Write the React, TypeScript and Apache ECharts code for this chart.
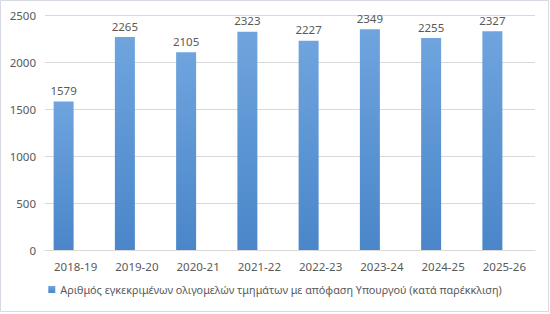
import React, { useEffect, useRef } from "react";
import * as echarts from "echarts";

const categories = ["2018-19", "2019-20", "2020-21", "2021-22", "2022-23", "2023-24", "2024-25", "2025-26"];
const values = [1579, 2265, 2105, 2323, 2227, 2349, 2255, 2327];
const emptySeries = [null, null, null, null, null, null, null, null];
const seriesName = "Αριθμός εγκεκριμένων ολιγομελών τμημάτων με απόφαση Υπουργού (κατά παρέκκλιση)";

const FONT = "'Noto Sans', sans-serif";

export default function App() {
  const ref = useRef<HTMLDivElement>(null);
  useEffect(() => {
    document.body.style.margin = "0";
    const chart = echarts.init(ref.current!, null, { renderer: "svg" });
    chart.setOption({
      animation: false,
      backgroundColor: "#ffffff",
      graphic: [
        {
          type: "rect",
          shape: { x: 0.5, y: 0.5, width: 548, height: 311 },
          style: { fill: "none", stroke: "#d9d9e3", lineWidth: 1 },
          silent: true,
        },
      ],
      grid: { left: 45, right: 15, top: 15, bottom: 64, containLabel: false },
      legend: {
        data: [seriesName],
        bottom: 14,
        left: "center",
        itemWidth: 7,
        itemHeight: 7,
        icon: "rect",
        itemGap: 4,
        textStyle: { color: "#595959", fontSize: 10.8, fontFamily: FONT },
      },
      xAxis: {
        type: "category",
        data: categories,
        axisLine: { lineStyle: { color: "#d9d9d9", width: 1 } },
        axisTick: { show: false },
        axisLabel: { color: "#595959", fontSize: 11.5, fontFamily: FONT, margin: 10 },
      },
      yAxis: {
        type: "value",
        min: 0,
        max: 2500,
        interval: 500,
        axisLine: { show: false },
        axisTick: { show: false },
        splitLine: { lineStyle: { color: "#d9d9d9", width: 1 } },
        axisLabel: {
          color: "#595959",
          fontSize: 11.5,
          fontFamily: FONT,
          margin: 9,
          formatter: (v: number) => String(v),
        },
      },
      series: [
        {
          name: seriesName,
          type: "bar",
          data: values,
          barWidth: 20,
          barGap: "20%",
          itemStyle: {
            color: new echarts.graphic.LinearGradient(0, 0, 0, 1, [
              { offset: 0, color: "#6fa4de" },
              { offset: 1, color: "#4a86c9" },
            ]),
          },
          label: {
            show: true,
            position: "top",
            distance: 5,
            color: "#595959",
            fontSize: 11.5,
            fontFamily: FONT,
          },
        },
        {
          name: "empty",
          type: "bar",
          data: emptySeries,
          barWidth: 20,
        },
      ],
    });
    return () => chart.dispose();
  }, []);
  return <div ref={ref} style={{ position: "absolute", left: 0, top: 0, width: 550, height: 314 }} />;
}
